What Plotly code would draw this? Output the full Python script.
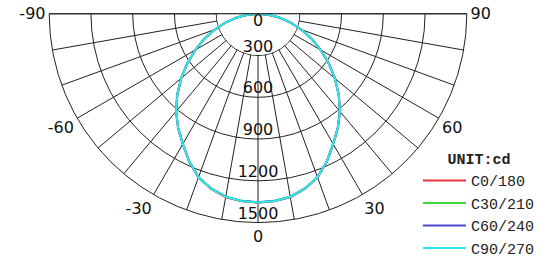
import numpy as np
import plotly.graph_objects as go

# ---- data ----
theta = list(range(-90, 95, 5))
c0_180 = [0, 76, 156, 242, 332, 427, 522, 622, 722, 822, 917, 1002, 1082, 1172, 1252, 1302, 1338, 1352, 1357,
          1352, 1338, 1302, 1252, 1172, 1082, 1002, 917, 822, 722, 622, 522, 427, 332, 242, 156, 76, 0]
c30_210 = [0, 75, 155, 240, 330, 425, 520, 620, 720, 820, 915, 1000, 1080, 1170, 1250, 1300, 1335, 1350, 1355,
           1350, 1335, 1300, 1250, 1170, 1080, 1000, 915, 820, 720, 620, 520, 425, 330, 240, 155, 75, 0]
c60_240 = [0, 74, 154, 239, 329, 424, 519, 619, 719, 819, 914, 999, 1079, 1169, 1249, 1299, 1334, 1349, 1354,
           1349, 1334, 1299, 1249, 1169, 1079, 999, 914, 819, 719, 619, 519, 424, 329, 239, 154, 74, 0]
c90_270 = [0, 75, 155, 240, 330, 425, 520, 620, 720, 820, 915, 1000, 1080, 1170, 1250, 1300, 1335, 1350, 1355,
           1350, 1335, 1300, 1250, 1170, 1080, 1000, 915, 820, 720, 620, 520, 425, 330, 240, 155, 75, 0]
series_names = ["C0/180", "C30/210", "C60/240", "C90/270"]
series_vals = [c0_180, c30_210, c60_240, c90_270]
series_colors = ["#e8343a", "#3cd63c", "#4a4ad0", "#30e8e8"]

radial_ticks = [0, 300, 600, 900, 1200, 1500]
angle_labels = [-90, -60, -30, 0, 30, 60, 90]
unit_label = "UNIT:cd"

# ---- figure ----
fig = go.Figure()

# white disc hiding the grid inside the first ring
disc_t = np.linspace(-90, 90, 181)
fig.add_trace(go.Scatterpolar(
    r=list(np.full(disc_t.size, 296.0)) + [0], theta=list(disc_t) + [0],
    mode="lines", fill="toself", fillcolor="white", line=dict(width=0, color="white"),
    hoverinfo="skip", showlegend=False))

for name, vals, col in zip(series_names, series_vals, series_colors):
    fig.add_trace(go.Scatterpolar(r=vals, theta=theta, mode="lines", name=name,
                                  line=dict(color=col, width=2)))

fig.add_trace(go.Scatterpolar(
    r=radial_ticks, theta=[0] * len(radial_ticks), mode="text",
    text=[str(v) for v in radial_ticks],
    textposition=["bottom center"] + ["top center"] * (len(radial_ticks) - 1),
    textfont=dict(family="DejaVu Sans", size=16, color="#111111"),
    hoverinfo="skip", showlegend=False))

# angular grid every 10 deg; visible angular range is 270..450 (i.e. -90..90)
grid_vals = list(range(270, 451, 10))
lab_map = {a + 360: str(a) for a in angle_labels}
grid_text = [lab_map.get(a, "") for a in grid_vals]

W, H = 555, 265
cx, cy, R = 258, 14, 212.0
fig.update_layout(
    width=W, height=H,
    margin=dict(l=0, r=0, t=0, b=0),
    paper_bgcolor="white",
    showlegend=True,
    polar=dict(
        domain=dict(x=[(cx - R) / W, (cx + R) / W], y=[(H - cy - R) / H, (H - cy) / H]),
        sector=[180, 360],
        bgcolor="white",
        angularaxis=dict(rotation=270, direction="counterclockwise",
                         tickmode="array", tickvals=grid_vals, ticktext=grid_text,
                         showline=True, linecolor="#222222", linewidth=1,
                         gridcolor="#222222", gridwidth=1, ticks="",
                         tickfont=dict(family="DejaVu Sans", size=16, color="#111111")),
        radialaxis=dict(range=[0, 1500], tickmode="array", tickvals=radial_ticks,
                        showticklabels=False, showline=False, ticks="",
                        gridcolor="#222222", gridwidth=1),
    ),
    legend=dict(x=418 / W, y=1 - 147 / H, xanchor="left", yanchor="top",
                bgcolor="rgba(0,0,0,0)",
                title=dict(text="<b>" + unit_label + "</b>", side="top center",
                           font=dict(family="Liberation Mono", size=15, color="#222222")),
                font=dict(family="Liberation Mono", size=15, color="#222222"),
                itemwidth=43, tracegroupgap=0),
)

fig.write_html("out.html")
